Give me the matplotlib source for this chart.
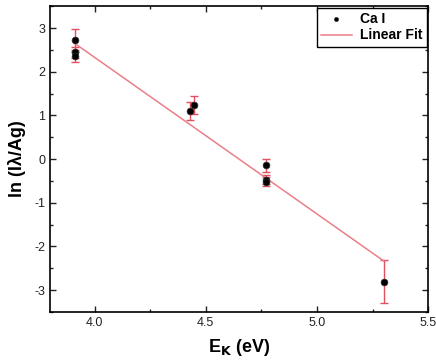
import numpy as np
import matplotlib.pyplot as plt
from matplotlib.ticker import MultipleLocator

plt.rcParams['font.family'] = ['Liberation Sans', 'DejaVu Sans']
plt.rcParams['axes.unicode_minus'] = False

# measured points (Ca I lines)
ek = [3.91, 3.91, 3.91, 4.43, 4.445, 4.77, 4.77, 4.77, 5.30]
ln_val = [2.72, 2.44, 2.36, 1.10, 1.24, -0.14, -0.47, -0.52, -2.81]
err = [0.26, 0.12, 0.14, 0.20, 0.20, 0.15, 0.10, 0.10, 0.49]

# linear fit end points
fit_x = [3.91, 5.30]
fit_y = [2.65, -2.33]

fig = plt.figure(figsize=(4.36, 3.62), dpi=100)
ax = fig.add_axes([0.115, 0.138, 0.867, 0.845])

ax.errorbar(ek, ln_val, yerr=err, fmt='none', ecolor='#e0505e', elinewidth=1.0,
            capsize=3, capthick=1.0, zorder=2)
ax.plot(fit_x, fit_y, color='#ea7f88', lw=1.1, label='Linear Fit', zorder=3)
ax.scatter(ek, ln_val, s=24, color='black', edgecolors='#333333', linewidths=0.5,
           label='Ca I', zorder=4)

ax.set_xlim(3.8, 5.5)
ax.set_ylim(-3.5, 3.5)
ax.xaxis.set_major_locator(MultipleLocator(0.5))
ax.xaxis.set_minor_locator(MultipleLocator(0.25))
ax.yaxis.set_major_locator(MultipleLocator(1))
ax.yaxis.set_minor_locator(MultipleLocator(0.5))
ax.tick_params(which='both', direction='in', top=True, right=True, width=1.0,
               labelsize=9, colors='#222222')
ax.tick_params(which='major', length=4)
ax.tick_params(which='minor', length=2)
for s in ax.spines.values():
    s.set_linewidth(1.2)

ax.set_xlabel('E$_\\mathbf{K}$ (eV)', fontsize=13, fontweight='bold', labelpad=6)
ax.set_ylabel('ln (I\u03bb/Ag)', fontsize=13, fontweight='bold', labelpad=6)

handles, labels = ax.get_legend_handles_labels()
leg = ax.legend(handles[::-1], labels[::-1], loc='upper right', fancybox=False,
                edgecolor='black', framealpha=1, borderaxespad=0.1,
                prop={'weight': 'bold', 'size': 10}, handlelength=2.2,
                borderpad=0.3, labelspacing=0.2, handletextpad=0.6,
                markerscale=0.6)
leg.get_frame().set_linewidth(1.0)

fig.savefig('out.png', dpi=100)
